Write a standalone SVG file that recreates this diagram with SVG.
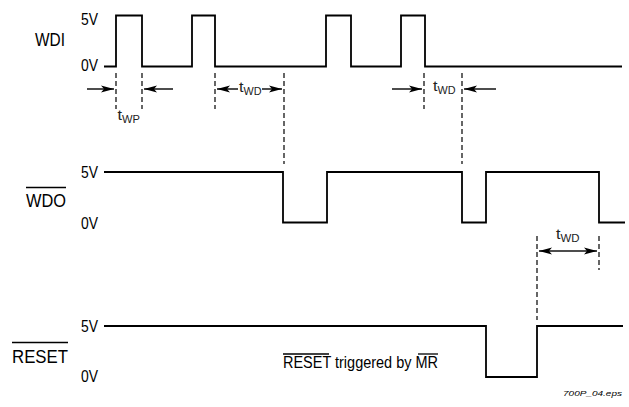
<svg xmlns="http://www.w3.org/2000/svg" width="629" height="407" viewBox="0 0 629 407">
<style>
.w{fill:none;stroke:#000;stroke-width:1.8;stroke-linejoin:miter}
.d{fill:none;stroke:#000;stroke-width:1.2;stroke-dasharray:5,3}
.a{fill:none;stroke:#000;stroke-width:1.4}
.t{font-family:"Liberation Sans",Arial,sans-serif;fill:#000}
.lab{font-size:18px}
.v{font-size:16px}
.tm{font-size:15px;fill:#222}
.sub{font-size:11px;fill:#222}
.ol{stroke:#000;stroke-width:1.3}
</style>
<defs>
<marker id="ah" viewBox="0 0 13 9" refX="13" refY="4.5" markerWidth="13" markerHeight="9" markerUnits="userSpaceOnUse" orient="auto">
<path d="M0,1 L3,4.5 L0,8 L13,4.5 Z" fill="#000"/>
</marker>
</defs>
<rect width="629" height="407" fill="#fff"/>
<g id="labels">
<text class="t lab" x="35" y="46" textLength="30" lengthAdjust="spacingAndGlyphs">WDI</text>
<text class="t v" x="81" y="25" textLength="17" lengthAdjust="spacingAndGlyphs">5V</text>
<text class="t v" x="81" y="71" textLength="17" lengthAdjust="spacingAndGlyphs">0V</text>
<text class="t lab" x="26" y="207" textLength="40" lengthAdjust="spacingAndGlyphs">WDO</text>
<line class="ol" x1="26" y1="187.5" x2="66" y2="187.5"/>
<text class="t v" x="81" y="178" textLength="17" lengthAdjust="spacingAndGlyphs">5V</text>
<text class="t v" x="81" y="229" textLength="17" lengthAdjust="spacingAndGlyphs">0V</text>
<text class="t lab" x="12" y="363" textLength="56" lengthAdjust="spacingAndGlyphs">RESET</text>
<line class="ol" x1="12" y1="342.5" x2="68" y2="342.5"/>
<text class="t v" x="81" y="332" textLength="17" lengthAdjust="spacingAndGlyphs">5V</text>
<text class="t v" x="81" y="382" textLength="17" lengthAdjust="spacingAndGlyphs">0V</text>
</g>
<g id="waveforms">
<polyline id="wdi" class="w" points="104,66.5 116,66.5 116,15.5 142,15.5 142,66.5 192,66.5 192,15.5 215,15.5 215,66.5 326,66.5 326,15.5 351,15.5 351,66.5 401,66.5 401,15.5 425,15.5 425,66.5 622,66.5"/>
<polyline id="wdo" class="w" points="104,172 283,172 283,222.5 327,222.5 327,172 462,172 462,222.5 486,222.5 486,172 599,172 599,222.5 625,222.5"/>
<polyline id="reset" class="w" points="104,326 486,326 486,377 537,377 537,326 623,326"/>
</g>
<g id="connectors">
<line class="d" x1="116" y1="73" x2="116" y2="109"/>
<line class="d" x1="142" y1="73" x2="142" y2="109"/>
<line class="d" x1="215" y1="73" x2="215" y2="109"/>
<line class="d" x1="284" y1="73" x2="284" y2="164"/>
<line class="d" x1="424" y1="73" x2="424" y2="109"/>
<line class="d" x1="462" y1="73" x2="462" y2="164"/>
<line class="d" x1="537" y1="236" x2="537" y2="320"/>
<line class="d" x1="599" y1="236" x2="599" y2="270"/>
<line class="a" x1="87" y1="89" x2="114" y2="89" marker-end="url(#ah)"/>
<line class="a" x1="173" y1="89" x2="144" y2="89" marker-end="url(#ah)"/>
<line class="a" x1="238" y1="89" x2="217" y2="89" marker-end="url(#ah)"/>
<line class="a" x1="262" y1="89" x2="282" y2="89" marker-end="url(#ah)"/>
<line class="a" x1="392" y1="89" x2="422" y2="89" marker-end="url(#ah)"/>
<line class="a" x1="496" y1="89" x2="464" y2="89" marker-end="url(#ah)"/>
<line class="a" x1="568" y1="251" x2="539" y2="251" marker-end="url(#ah)"/>
<line class="a" x1="568" y1="251" x2="597" y2="251" marker-end="url(#ah)"/>
</g>
<g id="timing-labels">
<text class="t tm" x="117.5" y="120" textLength="4.5" lengthAdjust="spacingAndGlyphs">t</text>
<text class="t sub" x="122" y="123" textLength="18" lengthAdjust="spacingAndGlyphs">WP</text>
<text class="t tm" x="239" y="92" textLength="4.5" lengthAdjust="spacingAndGlyphs">t</text>
<text class="t sub" x="243.5" y="95" textLength="18" lengthAdjust="spacingAndGlyphs">WD</text>
<text class="t tm" x="433" y="91" textLength="4.5" lengthAdjust="spacingAndGlyphs">t</text>
<text class="t sub" x="437.5" y="94" textLength="18" lengthAdjust="spacingAndGlyphs">WD</text>
<text class="t tm" x="556" y="239" textLength="4.5" lengthAdjust="spacingAndGlyphs">t</text>
<text class="t sub" x="560.5" y="242" textLength="19" lengthAdjust="spacingAndGlyphs">WD</text>
</g>
<g id="note">
<text class="t v" x="283" y="368" textLength="155" lengthAdjust="spacingAndGlyphs">RESET triggered by MR</text>
<line class="ol" x1="283" y1="354" x2="329" y2="354"/>
<line class="ol" x1="418" y1="354" x2="438" y2="354"/>
</g>
<text class="t" x="563" y="396" font-size="6.5" font-style="italic" fill="#444" textLength="59" lengthAdjust="spacingAndGlyphs">700P_04.eps</text>
</svg>
